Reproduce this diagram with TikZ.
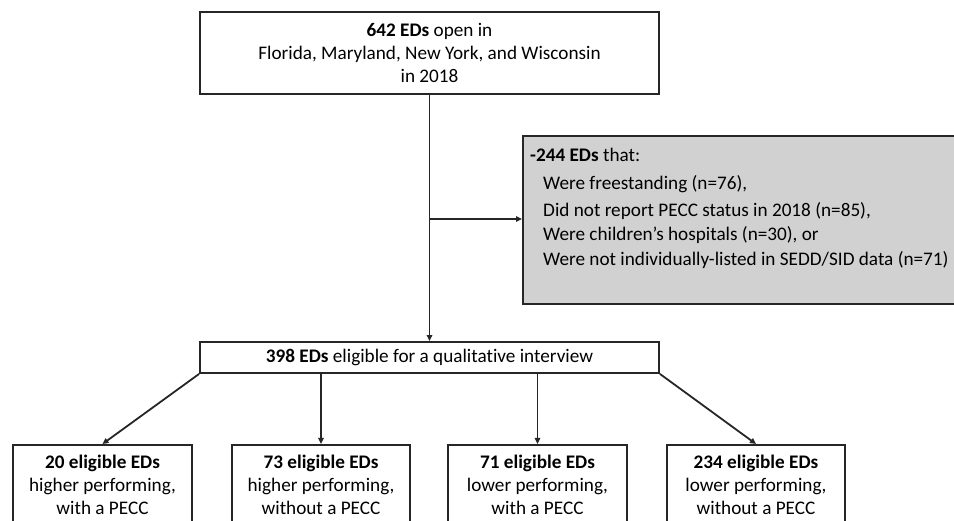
\documentclass[tikz,border=0pt]{standalone}
\usepackage{fontspec}
\setmainfont{Carlito}[Ligatures=NoCommon]
\usetikzlibrary{arrows.meta}
\begin{document}
\begin{tikzpicture}[x=1pt,y=-1pt,
  box/.style={draw=black!85, line width=1.9pt, fill=white, inner sep=0pt, align=center, font=\fontsize{19.2}{23}\selectfont},
  conn/.style={line width=1.8pt, black!85},
  arr/.style={conn, -{Triangle[length=6pt,width=5.5pt]}},
  txt/.style={font=\fontsize{19.2}{23}\selectfont, inner sep=0pt, anchor=west}]
\useasboundingbox (0,0) rectangle (954,521);
% top box
\node[box, minimum width=459pt, minimum height=82pt] (top) at (429.5,53)
  {\textbf{642 EDs} open in\\Florida, Maryland, New York, and Wisconsin\\in 2018};
% exclusion box
\node[draw=black!85, line width=1.9pt, fill=black!18, minimum width=440pt, minimum height=168pt, inner sep=0pt, anchor=north west] (ex) at (522,135) {};
\node[txt] (e0) at (530,155) {\textbf{-244 EDs} that:};
\node[txt] (e1) at (543,184) {Were freestanding (n=76),};
\node[txt] (e2) at (543,211) {Did not report PECC status in 2018 (n=85),};
\node[txt] (e3) at (543,235) {Were children’s hospitals (n=30), or};
\node[txt] (e4) at (543,260) {Were not individually-listed in SEDD/SID data (n=71)};
% middle box
\node[box, minimum width=459pt, minimum height=31pt] (mid) at (429.5,357.5)
  {\textbf{398 EDs} eligible for a qualitative interview};
% bottom boxes
\node[box, minimum width=179pt, minimum height=80pt, anchor=north] (b1) at (102.5,444)
  {\textbf{20 eligible EDs}\\higher performing,\\with a PECC};
\node[box, minimum width=178pt, minimum height=80pt, anchor=north] (b2) at (321,444)
  {\textbf{73 eligible EDs}\\higher performing,\\without a PECC};
\node[box, minimum width=179pt, minimum height=80pt, anchor=north] (b3) at (537.5,444)
  {\textbf{71 eligible EDs}\\lower performing,\\with a PECC};
\node[box, minimum width=178pt, minimum height=80pt, anchor=north] (b4) at (756,444)
  {\textbf{234 eligible EDs}\\lower performing,\\without a PECC};
% connectors
\coordinate (j) at (429.5,219);
\draw[arr] (top) -- (mid);
\draw[arr] (j) -- (ex.west |- j);
\draw[arr] (mid.south west) -- (b1.north);
\draw[arr] (mid.south -| b2.north) -- (b2.north);
\draw[arr] (mid.south -| b3.north) -- (b3.north);
\draw[arr] (mid.south east) -- (b4.north);
\end{tikzpicture}
\end{document}
